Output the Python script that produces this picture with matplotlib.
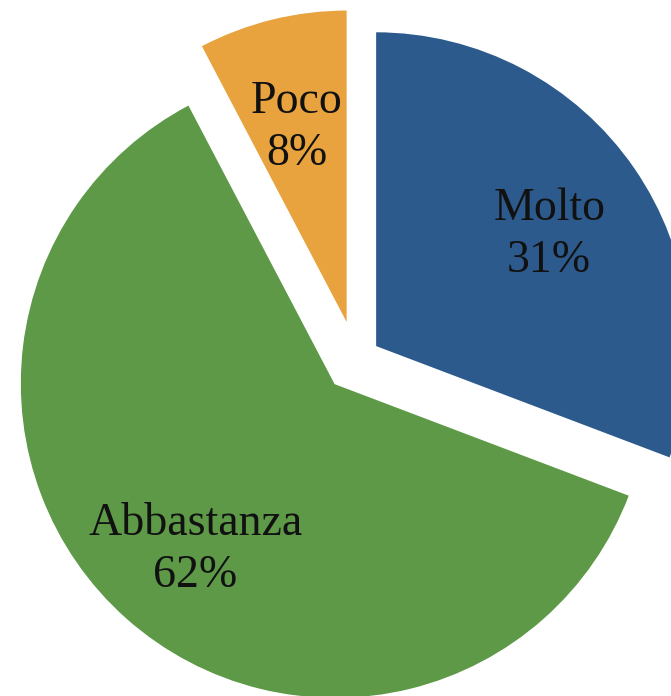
import matplotlib.pyplot as plt
import numpy as np

categories = ['Molto', 'Abbastanza', 'Poco']
counts = [4, 8, 1]
colors = ['#2D5A8C', '#5E9948', '#E8A33E']
explode = [0.075, 0.10, 0.115]

plt.rcParams['font.family'] = ['Liberation Serif', 'DejaVu Serif']

fig = plt.figure(figsize=(6.71, 6.96), dpi=100)
ax = fig.add_axes([0, 0, 1, 1])

labels_iter = iter(categories)
def fmt(pct):
    return '%s\n%.0f%%' % (next(labels_iter), pct)

wedges, texts, autotexts = ax.pie(counts, colors=colors, explode=explode,
                                  startangle=90, counterclock=False,
                                  autopct=fmt, pctdistance=0.67, radius=1,
                                  wedgeprops=dict(edgecolor='white', linewidth=1))
for t in autotexts:
    t.set_fontsize(33)
    t.set_color('#111111')
    t.set_linespacing(1.3)
    x, y = t.get_position()
    t.set_position((x, y - 0.025))  # excel centres labels a bit lower

# pie is bigger than the canvas, crop like the original
r_px = 315.0
cx, cy = 356.0, 360.0
ax.set_aspect('auto')
ax.set_xlim(-cx / r_px, (671 - cx) / r_px)
ax.set_ylim(-(696 - cy) / r_px, cy / r_px)
ax.axis('off')

plt.savefig('out.png', dpi=100)
